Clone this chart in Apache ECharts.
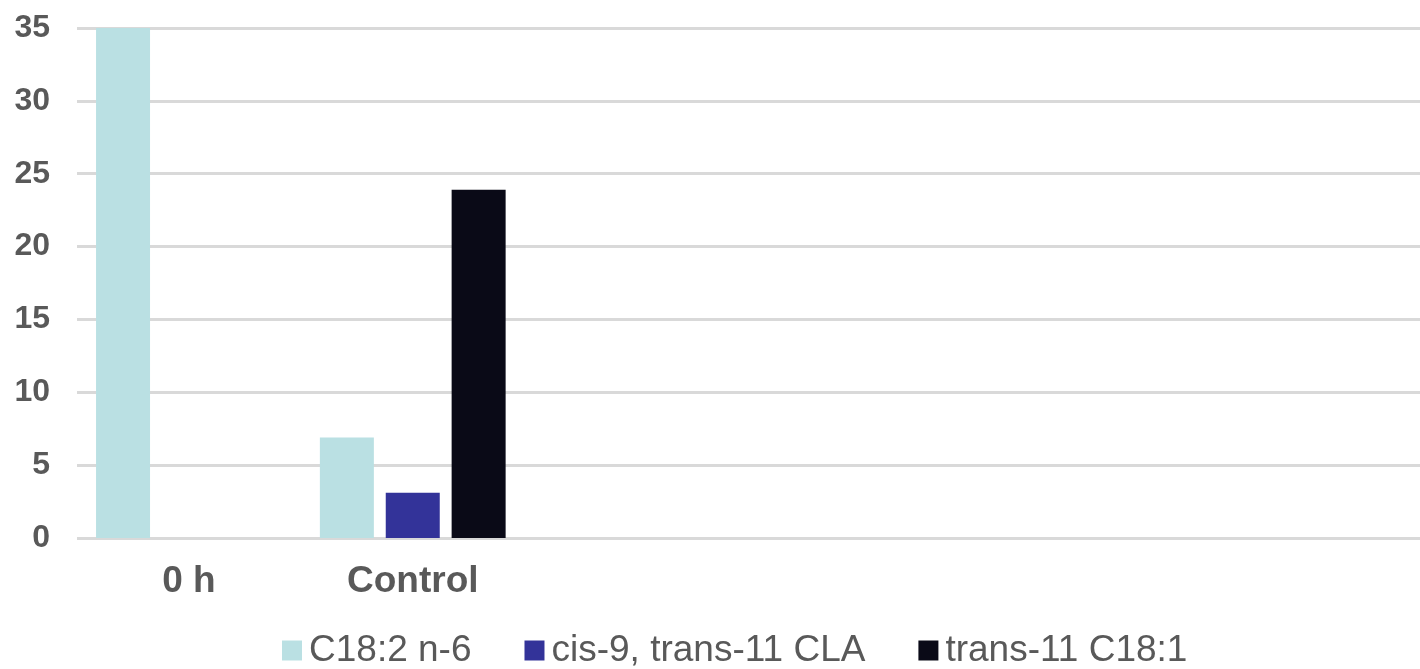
<!DOCTYPE html>
<html>
<head>
<meta charset="utf-8">
<style>
  html, body { margin: 0; padding: 0; background: #ffffff; }
  #chart { width: 1420px; height: 669px; }
</style>
<script src="https://cdn.jsdelivr.net/npm/echarts@6/dist/echarts.min.js"></script>
</head>
<body>
<div id="chart"></div>
<script>
// Sampling groups (only the first two carry data)
const categories = ['0 h', 'Control', '', '', '', ''];

// Fatty acid content per group
const c182n6   = [35, 6.9, null, null, null, null];
const cla      = [null, 3.1, null, null, null, null];
const trans11  = [null, 23.9, null, null, null, null];

const seriesNames = ['C18:2 n-6', 'cis-9, trans-11 CLA', 'trans-11 C18:1'];
const seriesColors = ['#bae0e3', '#333399', '#0a0a17'];

const yTicks = { min: 0, max: 35, interval: 5 };

const textColor = '#595959';
const gridColor = '#d9d9d9';
const fontFamily = '"Liberation Sans", Arial, sans-serif';

const chart = echarts.init(document.getElementById('chart'), null, { renderer: 'canvas' });

const values = [c182n6, cla, trans11];

chart.setOption({
  animation: false,
  backgroundColor: '#ffffff',
  // plot area runs past the right edge of the canvas
  grid: { left: 77, width: 1358, top: 28, height: 510, containLabel: false },
  legend: {
    left: 282,
    top: 632,
    padding: 0,
    itemGap: 53,
    itemWidth: 20,
    itemHeight: 20,
    icon: 'rect',
    textStyle: { color: textColor, fontSize: 37, fontFamily: fontFamily, padding: [0, 0, 0, 2] },
    data: seriesNames
  },
  xAxis: {
    type: 'category',
    data: categories,
    axisLine: { show: false },
    axisTick: { show: false },
    splitLine: { show: false },
    axisLabel: {
      color: textColor,
      fontSize: 37,
      fontWeight: 'bold',
      fontFamily: fontFamily,
      margin: 25,
      interval: 0
    }
  },
  yAxis: {
    type: 'value',
    min: yTicks.min,
    max: yTicks.max,
    interval: yTicks.interval,
    axisLine: { show: false },
    axisTick: { show: false },
    splitLine: { show: true, lineStyle: { color: gridColor, width: 3 } },
    axisLabel: {
      color: textColor,
      fontSize: 32,
      fontWeight: 'bold',
      fontFamily: fontFamily,
      margin: 27
    }
  },
  series: seriesNames.map((name, i) => ({
    name: name,
    type: 'bar',
    data: values[i],
    barWidth: 54,
    barGap: '22%',
    itemStyle: { color: seriesColors[i] }
  }))
});
</script>
</body>
</html>
